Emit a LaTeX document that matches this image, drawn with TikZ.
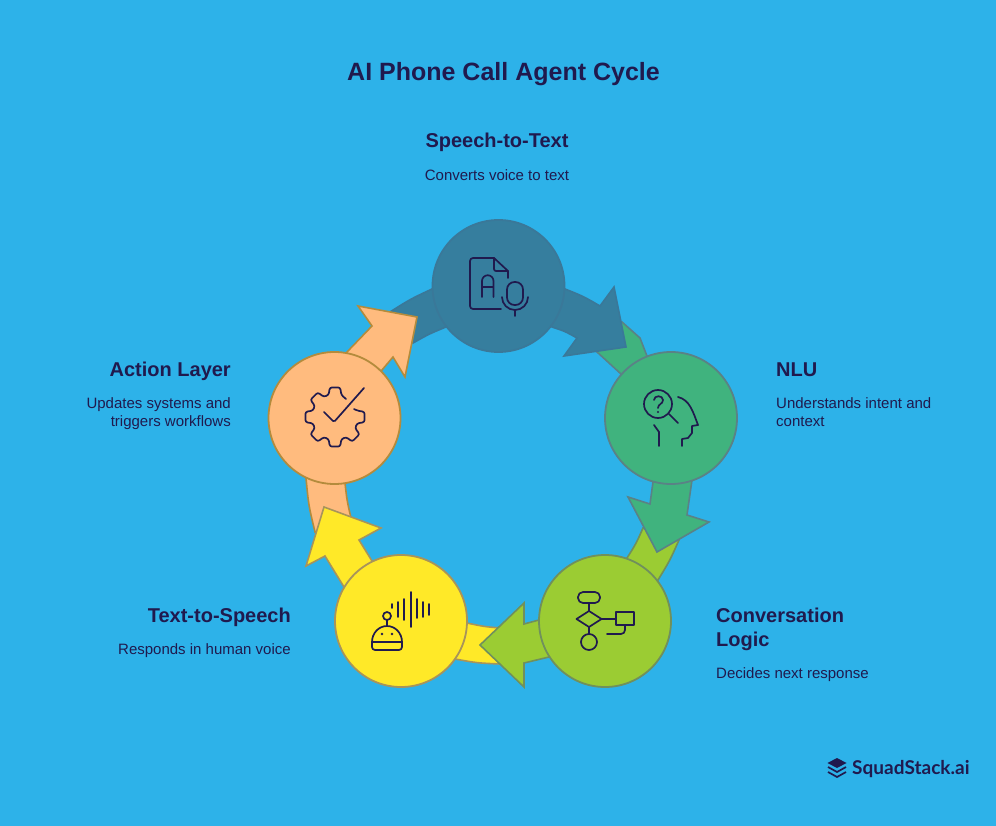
\documentclass[tikz,border=0pt]{standalone}
\usepackage{fontspec}
\setmainfont{Liberation Sans}
\newfontfamily\logofont{Lato}
\usepackage{xcolor}
\usetikzlibrary{positioning}
\definecolor{sky}{HTML}{2DB2E9}
\definecolor{ink}{HTML}{201A4E}
\definecolor{slate}{HTML}{367E9E}
\definecolor{slateline}{HTML}{3A7899}
\definecolor{jade}{HTML}{40B37E}
\definecolor{jadeline}{HTML}{5A8286}
\definecolor{lime}{HTML}{9BCC33}
\definecolor{limeline}{HTML}{70905C}
\definecolor{sun}{HTML}{FFE928}
\definecolor{sunline}{HTML}{A8945A}
\definecolor{peach}{HTML}{FFBB7E}
\definecolor{peachline}{HTML}{B48B3C}
\tikzset{
  stage/.style={circle, line width=1.8pt, minimum size=132pt, inner sep=0pt, outer sep=0pt},
  band/.style={line width=1.6pt, line join=miter},
  heading/.style={font=\fontsize{20}{25}\selectfont\bfseries, text=ink, inner sep=0pt, text height=15pt, text depth=4pt},
  blurb/.style={font=\fontsize{15}{18}\selectfont, text=ink, inner sep=0pt},
  glyph/.style={draw=ink, line width=1.7pt, line cap=round, line join=round},
}
\begin{document}
\begin{tikzpicture}[x=1pt, y=-1pt]
  \useasboundingbox (0,0) rectangle (996,826);
  \fill[sky] (0,0) rectangle (996,826);
  \node[font=\fontsize{25}{28}\selectfont\bfseries, text=ink, inner sep=0pt, anchor=base] (title) at (503.5,81) {AI Phone Call Agent Cycle};
  \coordinate (sttc) at (498.5,286);
  \coordinate (nluc) at (671,418);
  \coordinate (logicc) at (605,621);
  \coordinate (ttsc) at (401,621);
  \coordinate (actc) at (334.5,418);
  \draw[band, draw=slateline, fill=slate] (sttc) -- (432,289) .. controls (410.2,299.2) .. (390,312) -- (413,343) .. controls (429,334) .. (446,327) -- cycle;
  \draw[band, draw=peachline, fill=peach] (actc) -- (347,352) -- (372,326) -- (358,306) -- (417,317) -- (405,377) -- (393,357) -- (382,370) -- (actc) -- (345,483) .. controls (347,500.7) .. (351,518) -- (315,532) .. controls (308.6,505.3) .. (306,478) -- cycle;
  \draw[band, draw=sunline, fill=sun] (ttsc) -- (344,587) -- (325,556) -- (306,566) -- (324,507) -- (381,528) -- (359,540) -- (372,561) -- (ttsc) -- (467,623) .. controls (483.4,626.5) .. (500,628) -- (500,664) .. controls (477.2,663) .. (455,659) -- cycle;
  \draw[band, draw=limeline, fill=lime] (logicc) -- (549,657) -- (524,663) -- (524,687) -- (480,645) -- (524,603) -- (524,624) -- (539,620) -- (logicc) -- (627,558) .. controls (636.1,543.6) .. (643,528) -- (679,540) .. controls (669.8,560.7) .. (658,580) -- cycle;
  \draw[band, draw=jadeline, fill=jade] (nluc) -- (653,482) -- (650,504) -- (628,497) -- (657,552) -- (709,522) -- (687,515) -- (692,480) -- (nluc) -- (640,338) .. controls (631.5,329.5) .. (622,322) -- (597,352) .. controls (609.7,362.3) .. (621,374) -- cycle;
  \draw[band, draw=slateline, fill=slate] (sttc) -- (565,289) .. controls (583.1,296.2) .. (600,306) -- (614,287) -- (626,347) -- (564,356) -- (577,338) .. controls (565,331.3) .. (552,327) -- cycle;
  \node[stage, draw=slateline, fill=slate] (stt) at (sttc) {};
  \node[stage, draw=jadeline, fill=jade] (nlu) at (nluc) {};
  \node[stage, draw=limeline, fill=lime] (logic) at (logicc) {};
  \node[stage, draw=sunline, fill=sun] (tts) at (ttsc) {};
  \node[stage, draw=peachline, fill=peach] (act) at (actc) {};
  \node[heading, anchor=base] (sttname) at (497,148) {Speech-to-Text};
  \node[blurb, below=17.4pt of sttname] (sttdesc) {Converts voice to text};
  \node[heading, anchor=base west] (nluname) at (776,376) {NLU};
  \node[blurb, align=left, below=17.4pt of nluname.south west, anchor=north west] (nludesc) {Understands intent and\\context};
  \node[heading, anchor=base east] (actname) at (231,376) {Action Layer};
  \node[blurb, align=right, below=17.4pt of actname.south east, anchor=north east] (actdesc) {Updates systems and\\triggers workflows};
  \node[heading, anchor=base east] (ttsname) at (291,622) {Text-to-Speech};
  \node[blurb, below=17.4pt of ttsname.south east, anchor=north east] (ttsdesc) {Responds in human voice};
  \node[heading, anchor=base west] (logicname) at (716,622) {Conversation};
  \node[heading, below=5pt of logicname.south west, anchor=north west] (logicname2) {Logic};
  \node[blurb, below=16.5pt of logicname2.south west, anchor=north west] (logicdesc) {Decides next response};
  % speech to text
  \draw[glyph, rounded corners=3pt] (501,309) -- (470,309) -- (470,258) -- (494,258);
  \draw[glyph] (494,258) -- (508,271) -- (508,278);
  \draw[glyph, rounded corners=2pt] (494,258) -- (494,271) -- (508,271);
  \draw[glyph] (482,297) -- (482,281) arc[start angle=180, end angle=360, radius=5.75] -- (493.5,297) (482,287) -- (493.5,287);
  \draw[glyph, rounded corners=7.5pt] (507,282) rectangle (523,305);
  \draw[glyph] (502,297) arc[start angle=180, end angle=0, radius=13] (515,310) -- (515,316);
  % nlu
  \draw[glyph] (658,404) circle[radius=14];
  \draw[glyph] (654,400) .. controls (654,395) and (663,395) .. (663,400) .. controls (663,404) and (658,404) .. (658,408);
  \fill[ink] (658,412) circle[radius=1.1];
  \draw[glyph] (669,414) -- (678,423);
  \draw[glyph] (678,397) .. controls (690,400) and (693,412) .. (698,425) -- (692,426) -- (692,433) -- (688,438) -- (682,439) -- (682,446);
  \draw[glyph] (654,425) -- (659,432) -- (659,446);
  % conversation logic
  \draw[glyph, rounded corners=5pt] (578,592) rectangle (600,603);
  \draw[glyph] (589,603) -- (589,611) -- (601.5,619) -- (589,627) -- (576.5,619) -- (589,611);
  \draw[glyph] (589,627) -- (589,634);
  \draw[glyph] (589,642) circle[radius=8];
  \draw[glyph] (601.5,619) -- (616,619);
  \draw[glyph] (616,612) rectangle (634,625);
  \draw[glyph, rounded corners=4pt] (607,634) -- (625,634) -- (625,625);
  % text to speech
  \draw[glyph] (372,642) arc[start angle=180, end angle=360, x radius=15, y radius=16] -- cycle;
  \draw[glyph, rounded corners=3pt] (372,642) -- (372,650) -- (402,650) -- (402,642);
  \fill[ink] (382,634) circle[radius=1.3] (392,634) circle[radius=1.3];
  \draw[glyph] (387,626) -- (387,620);
  \draw[glyph] (387,616) circle[radius=4];
  \foreach \xbar/\ytop/\ybot in {392/604/608, 398/602/617, 404/599/620, 411/592/627, 417/599/618, 423/602/617, 429/604/615}
    \draw[glyph] (\xbar,\ytop) -- (\xbar,\ybot);
  % action layer
  \draw[glyph, rounded corners=1.5pt] (324,412) -- (334,422) -- (364,388);
  \begin{scope}[shift={(335,417)}]
    \draw[glyph, rounded corners=2.2pt] (11,-18) \foreach \a in {270,225,180,135,90,45,0} { -- (\a+16:23) -- (\a+10:30) -- (\a-10:30) -- (\a-16:23) } -- (19,-8);
  \end{scope}
  % logo
  \fill[ink] (837,758) -- (846.5,763) -- (837,768) -- (827.5,763) -- cycle;
  \draw[glyph, line cap=butt, line join=miter] (828,767) -- (837,772) -- (846,767) (828,772) -- (837,777) -- (846,772);
  \node[font=\logofont\fontsize{19}{20}\selectfont\bfseries, text=ink, inner sep=0pt, anchor=base west] (logo) at (852,774) {SquadStack.ai};
\end{tikzpicture}
\end{document}
